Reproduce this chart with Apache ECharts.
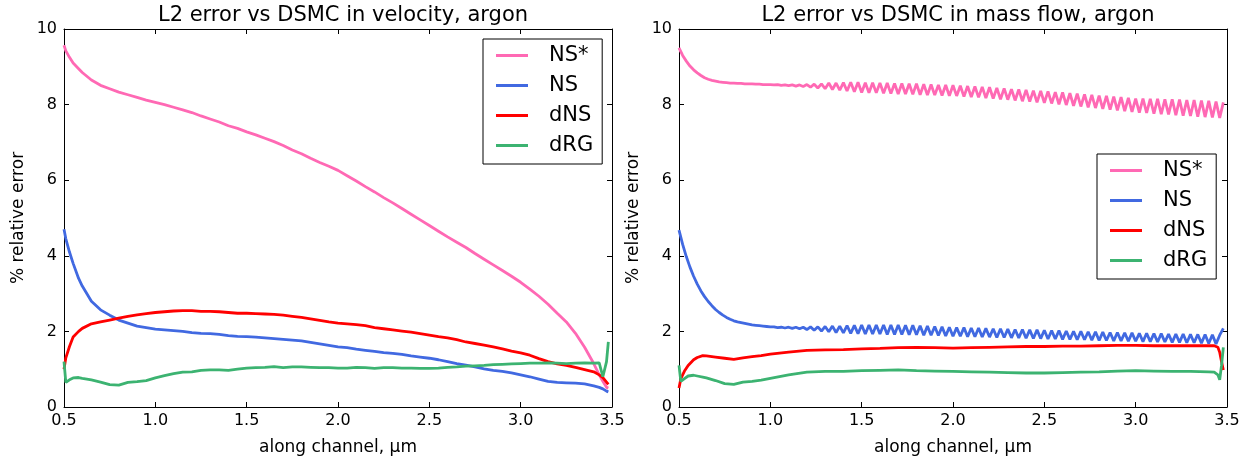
<!DOCTYPE html>
<html>
<head>
<meta charset="utf-8">
<script src="https://cdn.jsdelivr.net/npm/echarts@6/dist/echarts.min.js"></script>
<style>
  html, body { margin: 0; padding: 0; background: #fff; }
  #chart { width: 1252px; height: 466px; }
</style>
</head>
<body>
<div id="chart"></div>
<script>
// ---- data ----
var seriesNames = ['NS*', 'NS', 'dNS', 'dRG'];
var seriesColors = ['#FF69B4', '#4169E1', '#FF0000', '#3CB371'];

// left panel: velocity
var xLeft = [0.5, 0.51, 0.53, 0.55, 0.58, 0.6, 0.65, 0.7, 0.75, 0.8, 0.85, 0.9, 0.95, 1.0,
  1.05, 1.1, 1.15, 1.2, 1.25, 1.3, 1.35, 1.4, 1.45, 1.5, 1.55, 1.6, 1.65, 1.7, 1.75, 1.8,
  1.85, 1.9, 1.95, 2.0, 2.05, 2.1, 2.15, 2.2, 2.25, 2.3, 2.35, 2.4, 2.45, 2.5, 2.55, 2.6,
  2.65, 2.7, 2.75, 2.8, 2.85, 2.9, 2.95, 3.0, 3.05, 3.1, 3.15, 3.2, 3.25, 3.3, 3.35, 3.4,
  3.43, 3.45, 3.47, 3.48];
var nsStarVel = [9.57, 9.42, 9.25, 9.1, 8.95, 8.85, 8.65, 8.51, 8.42, 8.33, 8.26, 8.19, 8.12, 8.06,
  8.0, 7.93, 7.86, 7.79, 7.7, 7.62, 7.54, 7.44, 7.37, 7.28, 7.2, 7.11, 7.02, 6.92, 6.8, 6.7,
  6.58, 6.47, 6.37, 6.26, 6.12, 5.98, 5.83, 5.69, 5.54, 5.4, 5.25, 5.1, 4.95, 4.8, 4.65, 4.5,
  4.36, 4.22, 4.06, 3.91, 3.76, 3.61, 3.46, 3.3, 3.12, 2.93, 2.72, 2.48, 2.25, 1.95, 1.58, 1.15,
  0.85, 0.68, 0.52, 0.5];
var nsVel = [4.7, 4.45, 4.1, 3.8, 3.4, 3.2, 2.8, 2.57, 2.43, 2.3, 2.22, 2.14, 2.1, 2.06,
  2.04, 2.02, 2.0, 1.97, 1.95, 1.94, 1.92, 1.89, 1.87, 1.86, 1.85, 1.83, 1.81, 1.79, 1.77, 1.75,
  1.71, 1.67, 1.63, 1.59, 1.57, 1.53, 1.5, 1.47, 1.44, 1.42, 1.39, 1.35, 1.32, 1.29, 1.25, 1.2,
  1.15, 1.11, 1.06, 1.01, 0.97, 0.94, 0.9, 0.85, 0.8, 0.74, 0.68, 0.65, 0.64, 0.63, 0.61, 0.56,
  0.52, 0.48, 0.42, 0.4];
var dnsVel = [1.0, 1.3, 1.6, 1.85, 2.0, 2.08, 2.2, 2.25, 2.3, 2.35, 2.4, 2.44, 2.47, 2.5,
  2.52, 2.54, 2.55, 2.55, 2.53, 2.53, 2.52, 2.5, 2.48, 2.48, 2.47, 2.46, 2.45, 2.43, 2.4, 2.37,
  2.33, 2.29, 2.25, 2.22, 2.2, 2.18, 2.15, 2.1, 2.07, 2.04, 2.01, 1.98, 1.94, 1.9, 1.86, 1.83,
  1.78, 1.72, 1.68, 1.64, 1.59, 1.54, 1.48, 1.43, 1.37, 1.28, 1.2, 1.14, 1.1, 1.05, 0.99, 0.93,
  0.85, 0.78, 0.66, 0.6];
var drgVel = [1.2, 0.65, 0.72, 0.77, 0.78, 0.76, 0.72, 0.66, 0.59, 0.58, 0.65, 0.67, 0.7, 0.77,
  0.83, 0.88, 0.92, 0.93, 0.97, 0.98, 0.98, 0.97, 1.0, 1.03, 1.04, 1.05, 1.07, 1.04, 1.06, 1.06,
  1.05, 1.04, 1.04, 1.03, 1.03, 1.05, 1.04, 1.02, 1.04, 1.04, 1.03, 1.03, 1.02, 1.02, 1.03, 1.05,
  1.06, 1.08, 1.09, 1.1, 1.12, 1.13, 1.14, 1.15, 1.16, 1.16, 1.17, 1.16, 1.15, 1.16, 1.17, 1.16,
  1.17, 0.8, 1.2, 1.72];

// right panel: mass flow (fine grid for the oscillating curves)
var xRightFine = [
  0.50, 0.52, 0.54, 0.56, 0.58, 0.60, 0.62, 0.64, 0.66, 0.68,
  0.70, 0.72, 0.74, 0.76, 0.78, 0.80, 0.82, 0.84, 0.86, 0.88,
  0.90, 0.92, 0.94, 0.96, 0.98, 1.00, 1.02, 1.04, 1.06, 1.08,
  1.10, 1.12, 1.14, 1.16, 1.18, 1.20, 1.22, 1.24, 1.26, 1.28,
  1.30, 1.32, 1.34, 1.36, 1.38, 1.40, 1.42, 1.44, 1.46, 1.48,
  1.50, 1.52, 1.54, 1.56, 1.58, 1.60, 1.62, 1.64, 1.66, 1.68,
  1.70, 1.72, 1.74, 1.76, 1.78, 1.80, 1.82, 1.84, 1.86, 1.88,
  1.90, 1.92, 1.94, 1.96, 1.98, 2.00, 2.02, 2.04, 2.06, 2.08,
  2.10, 2.12, 2.14, 2.16, 2.18, 2.20, 2.22, 2.24, 2.26, 2.28,
  2.30, 2.32, 2.34, 2.36, 2.38, 2.40, 2.42, 2.44, 2.46, 2.48,
  2.50, 2.52, 2.54, 2.56, 2.58, 2.60, 2.62, 2.64, 2.66, 2.68,
  2.70, 2.72, 2.74, 2.76, 2.78, 2.80, 2.82, 2.84, 2.86, 2.88,
  2.90, 2.92, 2.94, 2.96, 2.98, 3.00, 3.02, 3.04, 3.06, 3.08,
  3.10, 3.12, 3.14, 3.16, 3.18, 3.20, 3.22, 3.24, 3.26, 3.28,
  3.30, 3.32, 3.34, 3.36, 3.38, 3.40, 3.42, 3.44, 3.46, 3.48];
var nsStarMass = [
  9.50, 9.30, 9.15, 9.02, 8.92, 8.84, 8.77, 8.71, 8.67, 8.64,
  8.62, 8.60, 8.59, 8.58, 8.57, 8.57, 8.56, 8.56, 8.55, 8.55,
  8.55, 8.54, 8.54, 8.53, 8.53, 8.53, 8.52, 8.53, 8.51, 8.52,
  8.50, 8.52, 8.49, 8.52, 8.48, 8.53, 8.46, 8.54, 8.44, 8.55,
  8.42, 8.57, 8.40, 8.57, 8.38, 8.58, 8.36, 8.59, 8.34, 8.59,
  8.32, 8.58, 8.31, 8.58, 8.31, 8.57, 8.30, 8.57, 8.29, 8.56,
  8.28, 8.56, 8.28, 8.55, 8.27, 8.55, 8.26, 8.54, 8.25, 8.53,
  8.25, 8.52, 8.24, 8.52, 8.23, 8.51, 8.23, 8.50, 8.21, 8.49,
  8.20, 8.48, 8.19, 8.47, 8.17, 8.46, 8.16, 8.44, 8.14, 8.43,
  8.13, 8.41, 8.11, 8.40, 8.09, 8.39, 8.08, 8.37, 8.06, 8.36,
  8.05, 8.35, 8.03, 8.33, 8.01, 8.32, 7.99, 8.30, 7.97, 8.29,
  7.95, 8.27, 7.93, 8.26, 7.91, 8.24, 7.89, 8.23, 7.87, 8.21,
  7.85, 8.20, 7.83, 8.18, 7.81, 8.16, 7.79, 8.16, 7.78, 8.15,
  7.76, 8.15, 7.75, 8.14, 7.74, 8.14, 7.72, 8.13, 7.71, 8.12,
  7.70, 8.12, 7.68, 8.11, 7.67, 8.10, 7.66, 8.08, 7.65, 8.06];
var nsMass = [
  4.68, 4.30, 3.98, 3.70, 3.46, 3.25, 3.07, 2.92, 2.79, 2.68,
  2.58, 2.50, 2.43, 2.37, 2.32, 2.28, 2.25, 2.23, 2.21, 2.19,
  2.17, 2.16, 2.15, 2.14, 2.13, 2.12, 2.12, 2.10, 2.11, 2.09,
  2.11, 2.08, 2.11, 2.07, 2.11, 2.05, 2.12, 2.03, 2.12, 2.01,
  2.13, 1.99, 2.14, 1.97, 2.14, 1.96, 2.15, 1.95, 2.16, 1.94,
  2.17, 1.93, 2.17, 1.93, 2.17, 1.93, 2.17, 1.92, 2.17, 1.92,
  2.17, 1.92, 2.16, 1.91, 2.16, 1.91, 2.15, 1.90, 2.14, 1.90,
  2.13, 1.89, 2.12, 1.88, 2.11, 1.87, 2.10, 1.87, 2.10, 1.86,
  2.09, 1.86, 2.09, 1.85, 2.08, 1.85, 2.07, 1.84, 2.07, 1.84,
  2.06, 1.83, 2.05, 1.83, 2.05, 1.82, 2.04, 1.81, 2.04, 1.81,
  2.03, 1.80, 2.02, 1.80, 2.02, 1.79, 2.01, 1.79, 2.00, 1.78,
  2.00, 1.78, 1.99, 1.77, 1.99, 1.76, 1.98, 1.76, 1.97, 1.75,
  1.97, 1.75, 1.96, 1.74, 1.96, 1.74, 1.95, 1.73, 1.95, 1.73,
  1.94, 1.72, 1.94, 1.72, 1.93, 1.71, 1.93, 1.71, 1.93, 1.70,
  1.92, 1.70, 1.92, 1.69, 1.92, 1.68, 1.91, 1.67, 1.90, 2.08];

// right panel: smooth curves
var xRightCoarse = [0.5, 0.51, 0.53, 0.55, 0.58, 0.6, 0.63, 0.65, 0.7, 0.75, 0.8, 0.85, 0.9, 0.95, 1.0,
  1.1, 1.2, 1.3, 1.4, 1.5, 1.6, 1.7, 1.8, 1.9, 2.0, 2.1, 2.2, 2.3, 2.4, 2.5, 2.6, 2.7, 2.8, 2.9,
  3.0, 3.1, 3.2, 3.3, 3.4, 3.43, 3.45, 3.46, 3.47, 3.48];
var dnsMass = [0.5, 0.75, 0.95, 1.1, 1.25, 1.31, 1.36, 1.35, 1.32, 1.29, 1.26, 1.3, 1.33, 1.36, 1.4,
  1.45, 1.5, 1.51, 1.52, 1.54, 1.55, 1.57, 1.58, 1.57, 1.56, 1.57, 1.58, 1.59, 1.6, 1.6, 1.61, 1.61, 1.62, 1.63,
  1.63, 1.62, 1.62, 1.62, 1.62, 1.62, 1.58, 1.45, 1.2, 0.98];
var drgMass = [1.1, 0.68, 0.75, 0.82, 0.84, 0.82, 0.79, 0.77, 0.7, 0.62, 0.6, 0.66, 0.68, 0.71, 0.76,
  0.85, 0.92, 0.94, 0.94, 0.96, 0.97, 0.98, 0.96, 0.95, 0.94, 0.93, 0.92, 0.91, 0.9, 0.9, 0.91, 0.92, 0.93, 0.95,
  0.96, 0.95, 0.94, 0.94, 0.93, 0.92, 0.85, 0.72, 1.1, 1.58];

var titles = ['L2 error vs DSMC in velocity, argon', 'L2 error vs DSMC in mass flow, argon'];
var xName = 'along channel, \u00b5m';
var yName = '% relative error';

// ---- chart ----
var FONT = 'DejaVu Sans';

function pairs(xs, ys) {
  var out = [];
  for (var i = 0; i < xs.length; i++) out.push([xs[i], ys[i]]);
  return out;
}

function xAx(grid, pos) {
  var bottom = pos === 'bottom';
  return {
    gridIndex: grid, type: 'value', position: pos,
    min: 0.5, max: 3.5, interval: 0.5,
    name: bottom ? xName : '', nameLocation: 'middle', nameGap: 32,
    nameTextStyle: { fontSize: 17, color: '#000', fontFamily: FONT },
    axisLine: { show: true, onZero: false, lineStyle: { color: '#000', width: 1 } },
    axisTick: { show: true, inside: true, length: 5, lineStyle: { color: '#000' } },
    axisLabel: { show: bottom, margin: 6, fontSize: 16, color: '#000', fontFamily: FONT,
      formatter: function (v) { return v.toFixed(1); } },
    splitLine: { show: false }
  };
}

function yAx(grid, pos) {
  var left = pos === 'left';
  return {
    gridIndex: grid, type: 'value', position: pos,
    min: 0, max: 10, interval: 2,
    name: left ? yName : '', nameLocation: 'middle', nameGap: 37,
    nameTextStyle: { fontSize: 17, color: '#000', fontFamily: FONT },
    axisLine: { show: true, onZero: false, lineStyle: { color: '#000', width: 1 } },
    axisTick: { show: true, inside: true, length: 5, lineStyle: { color: '#000' } },
    axisLabel: { show: left, margin: 7, fontSize: 16, color: '#000', fontFamily: FONT },
    splitLine: { show: false }
  };
}

function legendAt(left, top) {
  return {
    left: left, top: top, orient: 'vertical',
    padding: [6, 9, 8, 13],
    borderColor: '#000', borderWidth: 1, backgroundColor: '#fff',
    icon: 'rect', itemWidth: 32, itemHeight: 3, itemGap: 9,
    selectedMode: false,
    textStyle: { fontSize: 21, color: '#000', fontFamily: FONT, padding: [0, 0, 0, 16] },
    data: seriesNames
  };
}

function lineSeries(idx, axis, data) {
  return {
    name: seriesNames[idx], type: 'line',
    xAxisIndex: axis, yAxisIndex: axis,
    data: data, symbol: 'none', smooth: false,
    color: seriesColors[idx],
    lineStyle: { width: 2.8, color: seriesColors[idx] },
    itemStyle: { color: seriesColors[idx] },
    z: 2 + idx
  };
}

var myChart = echarts.init(document.getElementById('chart'));
var option = {
  animation: false,
  backgroundColor: '#fff',
  textStyle: { fontFamily: FONT },
  title: [
    { text: titles[0], left: 338, top: 0, textAlign: 'center',
      textStyle: { fontSize: 21, fontWeight: 'normal', color: '#000', fontFamily: FONT } },
    { text: titles[1], left: 953, top: 0, textAlign: 'center',
      textStyle: { fontSize: 21, fontWeight: 'normal', color: '#000', fontFamily: FONT } }
  ],
  legend: [legendAt(483, 39), legendAt(1097, 154)],
  grid: [
    { left: 64, right: 640, top: 29, bottom: 59 },
    { left: 679, right: 25, top: 29, bottom: 59 }
  ],
  xAxis: [xAx(0, 'bottom'), xAx(0, 'top'), xAx(1, 'bottom'), xAx(1, 'top')],
  yAxis: [yAx(0, 'left'), yAx(0, 'right'), yAx(1, 'left'), yAx(1, 'right')],
  series: [
    lineSeries(0, 0, pairs(xLeft, nsStarVel)),
    lineSeries(1, 0, pairs(xLeft, nsVel)),
    lineSeries(2, 0, pairs(xLeft, dnsVel)),
    lineSeries(3, 0, pairs(xLeft, drgVel)),
    lineSeries(0, 2, pairs(xRightFine, nsStarMass)),
    lineSeries(1, 2, pairs(xRightFine, nsMass)),
    lineSeries(2, 2, pairs(xRightCoarse, dnsMass)),
    lineSeries(3, 2, pairs(xRightCoarse, drgMass))
  ]
};
myChart.setOption(option);
</script>
</body>
</html>
